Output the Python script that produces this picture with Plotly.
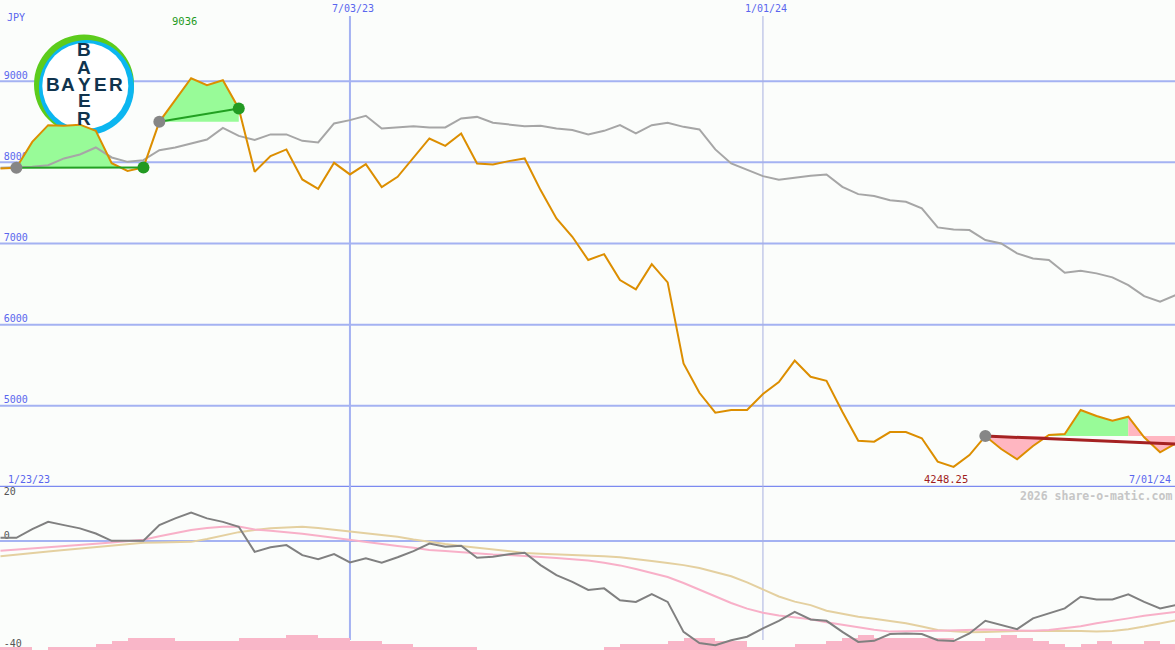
import plotly.graph_objects as go

# ---------------- data (weekly points, index 0 = 1/23/23) ----------------
currency = "JPY"
price = [7925, 7932, 8252, 8458, 8452, 8464, 8388, 7990, 7895, 7937,
         8499, 8766, 9036, 8951, 9012, 8664, 7883, 8076, 8159, 7789,
         7674, 7994, 7851, 7978, 7695, 7821, 8055, 8294, 8203, 8356,
         7986, 7974, 8015, 8048, 7658, 7309, 7083, 6796, 6869, 6549,
         6435, 6746, 6521, 5523, 5161, 4915, 4948, 4948, 5145, 5293,
         5558, 5358, 5309, 4927, 4570, 4558, 4677, 4677, 4600, 4312,
         4248.25, 4394, 4628, 4468, 4341, 4505, 4640, 4653, 4948, 4874,
         4817, 4866, 4612, 4427, 4538]
benchmark = [7932, 7937, 7945, 7965, 8048, 8097, 8183, 8060, 8006, 8027,
             8150, 8183, 8232, 8281, 8425, 8326, 8275, 8344, 8344, 8265,
             8245, 8479, 8520, 8573, 8417, 8430, 8446, 8430, 8430, 8541,
             8560, 8487, 8470, 8446, 8450, 8417, 8397, 8344, 8388, 8458,
             8356, 8458, 8487, 8437, 8405, 8159, 7986, 7904, 7830, 7785,
             7814, 7834, 7851, 7698, 7608, 7584, 7534, 7514, 7432, 7198,
             7173, 7165, 7042, 7001, 6878, 6816, 6796, 6639, 6664, 6632,
             6583, 6488, 6352, 6282, 6365]
osc = [1.2, 1.2, 4.4, 7.1, 5.9, 4.7, 2.8, 0.1, 0.1, 0.1,
       5.9, 8.4, 10.5, 8.4, 7.1, 5.3, -4.0, -2.3, -1.5, -5.2,
       -6.7, -4.8, -7.9, -6.4, -8.0, -6.0, -3.7, -0.9, -2.1, -1.7,
       -6.2, -5.8, -4.9, -4.3, -8.9, -12.6, -15.1, -18.1, -17.5, -21.9,
       -22.5, -19.6, -22.5, -33.6, -37.7, -38.5, -36.7, -35.4, -32.3, -29.5,
       -26.2, -29.0, -29.5, -33.6, -37.3, -36.9, -34.4, -34.2, -34.4, -36.7,
       -37.0, -34.2, -29.5, -31.1, -32.6, -28.6, -26.8, -24.9, -20.6, -21.6,
       -21.6, -19.7, -22.5, -24.9, -23.7]
osc_fast = [-3.6, -3.2, -2.7, -2.3, -1.9, -1.4, -1.0, -0.5, 0.0, 0.5,
            1.8, 3.0, 4.1, 4.8, 5.3, 5.4, 4.3, 3.8, 3.3, 2.7,
            2.0, 1.2, 0.4, -0.3, -1.1, -1.8, -2.5, -3.3, -3.7, -4.2,
            -4.6, -5.0, -5.2, -5.5, -5.8, -6.3, -6.7, -7.2, -8.0, -9.0,
            -10.3, -11.7, -13.3, -15.5, -18.0, -20.5, -22.9, -25.0, -26.5, -27.5,
            -28.1, -28.9, -30.0, -31.0, -31.9, -32.8, -33.5, -33.5, -33.3, -33.2,
            -33.0, -32.8, -32.7, -32.9, -33.1, -33.2, -32.9, -32.3, -31.5, -30.4,
            -29.6, -28.6, -27.6, -26.9, -26.2]
osc_slow = [-5.6, -5.1, -4.5, -3.9, -3.3, -2.8, -2.2, -1.7, -1.1, -0.6,
            -0.5, -0.4, -0.3, 0.8, 2.0, 3.3, 4.1, 4.7, 5.0, 5.3,
            4.8, 4.2, 3.5, 2.9, 2.2, 1.6, 0.6, -0.3, -1.1, -1.8,
            -2.5, -3.2, -3.9, -4.4, -4.7, -4.9, -5.0, -5.2, -5.6, -6.0,
            -6.8, -7.4, -8.1, -8.9, -10.0, -11.4, -13.0, -15.3, -17.9, -20.5,
            -22.4, -23.7, -25.8, -27.0, -28.0, -28.7, -29.6, -30.4, -31.6, -32.9,
            -33.4, -33.7, -33.6, -33.4, -33.3, -33.3, -33.2, -33.2, -33.3, -33.5,
            -33.3, -32.6, -31.6, -30.4, -29.3]
volume = [1.2, 1.2, 0, 1.2, 1.2, 1.2, 2.2, 3.3, 4.6, 4.6,
          4.6, 3.3, 3.3, 3.3, 3.3, 4.6, 4.6, 4.6, 5.6, 5.6,
          4.6, 4.6, 3.3, 3.3, 2.2, 2.2, 1.2, 1.2, 1.2, 1.2,
          0, 0, 0, 0, 0, 0, 0, 0, 1.2, 2.2,
          2.2, 2.2, 3.3, 4.6, 4.6, 3.3, 3.3, 1.2, 1.2, 1.2,
          2.2, 2.2, 3.3, 4.6, 5.6, 4.6, 4.6, 4.6, 4.6, 4.6,
          3.3, 3.3, 4.6, 5.6, 4.6, 3.3, 2.2, 1.2, 2.2, 3.3,
          2.2, 2.2, 3.3, 2.2]
price_ticks = [9000, 8000, 7000, 6000, 5000]
osc_ticks = [20, 0, -40]
start_label = "1/23/23"
end_label = "7/01/24"
month_labels = ["7/03/23", "1/01/24"]
month_idx = [22, 48]
pattern1 = (1, 9)
pattern2 = (10, 15)
pattern3 = (62, 74, 71)
pattern3_end_value = 4530

# ---------------- styling ----------------
W, H = 1175, 650
BG = "#fbfdfb"
GRID = "#a4b2f2"
BLUE_TXT = "#5a66ee"
MONO = "DejaVu Sans Mono"
GREEN_FILL = "#98fb98"
PINK_FILL = "#ffb6c1"
n = len(price)
idx = list(range(n))

fig = go.Figure()

# axis labels as text traces (beneath the data)
fig.add_trace(go.Scatter(x=[0.2] * len(price_ticks), y=price_ticks, mode="text",
                         text=[str(v) for v in price_ticks], textposition="top right",
                         textfont=dict(family=MONO, size=10, color=BLUE_TXT),
                         hoverinfo="skip", showlegend=False, cliponaxis=False))
fig.add_trace(go.Scatter(x=[0.2] * len(osc_ticks), y=osc_ticks, yaxis="y2", mode="text",
                         text=[str(v) for v in osc_ticks],
                         textposition=["bottom right", "top right", "top right"],
                         textfont=dict(family=MONO, size=10, color="#555555"),
                         hoverinfo="skip", showlegend=False, cliponaxis=False))


def crossings(i0, i1, level):
    xs, ys = [], []
    for k in range(i0, i1 + 1):
        if k > i0:
            a = price[k - 1] - level
            b = price[k] - level
            if a * b < 0:
                t = a / (a - b)
                xs.append(k - 1 + t)
                ys.append(level)
        xs.append(k)
        ys.append(price[k])
    return xs, ys


def add_fill(i0, i1, level, color, mode):
    xs, ys = crossings(i0, i1, level)
    if mode == "above":
        ys = [max(v, level) for v in ys]
    elif mode == "below":
        ys = [min(v, level) for v in ys]
    fig.add_trace(go.Scatter(x=xs, y=[level] * len(xs), mode="lines",
                             line=dict(width=0, color="rgba(0,0,0,0)"),
                             hoverinfo="skip", showlegend=False))
    fig.add_trace(go.Scatter(x=xs, y=ys, mode="lines", fill="tonexty", fillcolor=color,
                             line=dict(width=0, color="rgba(0,0,0,0)"),
                             hoverinfo="skip", showlegend=False))


add_fill(pattern1[0], pattern1[1], price[pattern1[0]], GREEN_FILL, "above")
add_fill(pattern2[0], pattern2[1], price[pattern2[0]], GREEN_FILL, "above")
p3s, p3e, p3sw = pattern3
lvl3 = price[p3s]
add_fill(p3s, p3sw, lvl3, PINK_FILL, "below")
add_fill(p3s, p3sw, lvl3, GREEN_FILL, "above")
add_fill(p3sw, p3e, lvl3, PINK_FILL, "both")

# benchmark and price
fig.add_trace(go.Scatter(x=idx, y=benchmark, mode="lines", line=dict(color="#a6a6a6", width=2),
                         hoverinfo="skip", showlegend=False))
fig.add_trace(go.Scatter(x=idx, y=price, mode="lines", line=dict(color="#dc8e00", width=2),
                         hoverinfo="skip", showlegend=False))

# trend lines
for (a, b) in (pattern1, pattern2):
    fig.add_trace(go.Scatter(x=[a, b], y=[price[a], price[b]], mode="lines",
                             line=dict(color="#22a022", width=2), hoverinfo="skip", showlegend=False))
fig.add_trace(go.Scatter(x=[p3s, p3e], y=[lvl3, pattern3_end_value], mode="lines",
                         line=dict(color="#a52222", width=3), hoverinfo="skip", showlegend=False))

# dots
starts = [pattern1[0], pattern2[0], p3s]
ends = [pattern1[1], pattern2[1]]
fig.add_trace(go.Scatter(x=starts, y=[price[i] for i in starts], mode="markers",
                         marker=dict(color="#868686", size=12), hoverinfo="skip", showlegend=False))
fig.add_trace(go.Scatter(x=ends, y=[price[i] for i in ends], mode="markers",
                         marker=dict(color="#229a22", size=12), hoverinfo="skip", showlegend=False))

# lower panel
fig.add_trace(go.Bar(x=[i + 0.5 for i in range(len(volume))], y=volume, base=-40.3, width=1,
                     yaxis="y2", marker=dict(color="#f9b6c8", line=dict(width=0)),
                     hoverinfo="skip", showlegend=False))
fig.add_trace(go.Scatter(x=idx, y=osc_slow, yaxis="y2", mode="lines",
                         line=dict(color="#e4d0a0", width=2), hoverinfo="skip", showlegend=False))
fig.add_trace(go.Scatter(x=idx, y=osc_fast, yaxis="y2", mode="lines",
                         line=dict(color="#f8b0c8", width=2), hoverinfo="skip", showlegend=False))
fig.add_trace(go.Scatter(x=idx, y=osc, yaxis="y2", mode="lines",
                         line=dict(color="#808080", width=2), hoverinfo="skip", showlegend=False))

# ---------------- shapes ----------------
shapes = []
for v in price_ticks:
    shapes.append(dict(type="line", xref="paper", x0=0, x1=1, yref="y", y0=v, y1=v,
                       line=dict(color=GRID, width=2), layer="below"))
shapes.append(dict(type="line", xref="paper", x0=0, x1=1, yref="y2", y0=0, y1=0,
                   line=dict(color=GRID, width=2), layer="below"))
shapes.append(dict(type="line", xref="paper", x0=0, x1=1, yref="y", y0=4000, y1=4000,
                   line=dict(color="#7c8af0", width=2.5), layer="below"))
vl_styles = [dict(color=GRID, width=2), dict(color="#a8b0e0", width=1)]
for i, st in zip(month_idx, vl_styles):
    shapes.append(dict(type="line", xref="x", x0=i, x1=i, yref="paper",
                       y0=1 - 640 / H, y1=1 - 16 / H, line=st, layer="below"))


def circ(cx, cy, r, color):
    return dict(type="circle", xref="paper", yref="paper",
                x0=(cx - r) / W, x1=(cx + r) / W, y0=1 - (cy + r) / H, y1=1 - (cy - r) / H,
                fillcolor=color, line=dict(width=0), layer="below")


shapes.append(circ(84, 84.5, 50, "#5ccc1c"))
shapes.append(circ(86.5, 87.5, 47.5, "#0cb6f0"))
shapes.append(circ(85.3, 86, 43, "#ffffff"))

# ---------------- annotations ----------------
ann = []


def txt(text, x, y, color, xanchor="left", size=10, xref="paper", xshift=0, family=MONO):
    ann.append(dict(text=text, x=x, y=y, xref=xref, yref="paper", xanchor=xanchor,
                    yanchor="middle", showarrow=False, xshift=xshift, borderpad=0,
                    font=dict(family=family, size=size, color=color)))


txt(currency, 6 / W, 1 - 17 / H, BLUE_TXT)
imax = max(range(n), key=lambda i: price[i])
imin = min(range(n), key=lambda i: price[i])
txt(f"{price[imax]:g}", imax, 1 - 21 / H, "#1e9a1e", "center", 10.5, "x", -6.5)
txt(f"{price[imin]:g}", imin, 1 - 479 / H, "#a01c1c", "center", 10.5, "x", -8)
for lab, i in zip(month_labels, month_idx):
    txt(lab, i, 1 - 9 / H, BLUE_TXT, "center", 10, "x", 3.5)
txt(start_label, 7 / W, 1 - 479 / H, BLUE_TXT)
txt(end_label, 1172 / W, 1 - 479 / H, BLUE_TXT, "right")
txt("<b>2026 share-o-matic.com</b>", 1173 / W, 1 - 496 / H, "#c6c6c6", "right", 11.5)

NAVY = "#10344e"
for ch, px in zip("BAYER", [52.5, 68, 84, 100, 116]):
    txt(f"<b>{ch}</b>", px / W, 1 - 84 / H, NAVY, "center", 19, family="Liberation Sans")
for ch, py in zip("BAER", [50, 67, 101, 118]):
    txt(f"<b>{ch}</b>", 84 / W, 1 - py / H, NAVY, "center", 19, family="Liberation Sans")

fig.update_layout(
    width=W, height=H, margin=dict(l=0, r=0, t=0, b=0),
    paper_bgcolor=BG, plot_bgcolor=BG, showlegend=False,
    xaxis=dict(range=[-0.031, 73.94], visible=False, fixedrange=True),
    yaxis=dict(domain=[163 / H, 1], range=[4000, 10000], visible=False),
    yaxis2=dict(domain=[0, 163 / H], range=[-40.3, 20], visible=False, anchor="x"),
    shapes=shapes, annotations=ann, bargap=0,
)

fig.write_html("out.html", config={"displayModeBar": False},
               post_script="document.body.style.margin='0';document.body.style.overflow='hidden';")
